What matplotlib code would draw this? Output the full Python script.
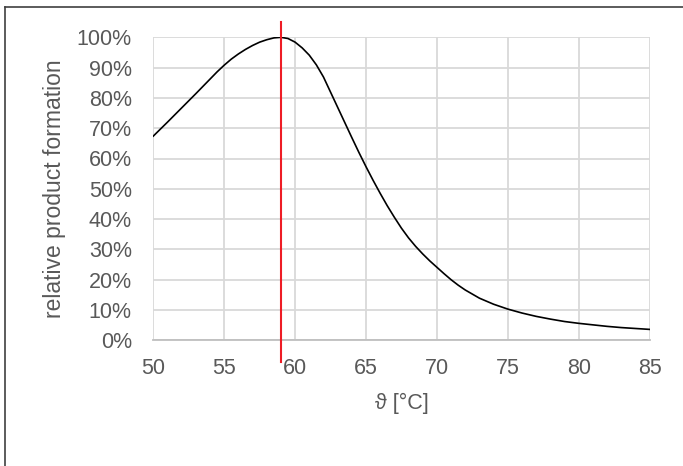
import matplotlib
matplotlib.use("Agg")
import matplotlib.pyplot as plt
from matplotlib.lines import Line2D
from matplotlib.ticker import FuncFormatter

# --- data ---
temperature = [50, 51, 52, 53, 54, 54.5, 55, 55.5, 56, 56.5, 57, 57.5, 58, 58.5, 59,
               59.5, 60, 60.5, 61, 61.5, 62, 62.5, 63, 63.5, 64, 64.5, 65,
               65.5, 66, 66.5, 67, 67.5, 68, 68.5, 69, 69.5, 70, 70.5, 71, 71.5,
               72, 73, 74, 75, 76, 77, 78, 79, 80, 81, 82, 83, 84, 85]
product_formation = [67.4, 72.0, 76.7, 81.4, 86.2, 88.6, 90.8, 92.8, 94.5, 96.0,
                     97.3, 98.4, 99.2, 99.8, 100.0,
                     99.6, 98.4, 96.5, 94.1, 90.9, 86.9, 81.9, 76.9, 71.9, 66.9,
                     62.0, 57.3, 52.8, 48.5, 44.4, 40.6, 37.0, 33.8, 31.0, 28.5,
                     26.2, 24.1, 22.0, 20.0, 18.2, 16.6, 13.9, 11.9, 10.3, 9.0,
                     7.9, 7.0, 6.2, 5.6, 5.1, 4.6, 4.2, 3.9, 3.6]
optimum_temperature = 59.0
x_ticks = [50, 55, 60, 65, 70, 75, 80, 85]
y_ticks = [0, 10, 20, 30, 40, 50, 60, 70, 80, 90, 100]
x_label = "ϑ [°C]"
y_label = "relative product formation"

plt.rcParams['font.family'] = ['Liberation Sans', 'DejaVu Sans']
text_color = "#595959"

W, H = 683, 466
fig = plt.figure(figsize=(W / 100, H / 100), dpi=100)
left, right, top, bottom = 153.3, 649.6, 37.3, 340.3
ax = fig.add_axes([left / W, 1 - bottom / H, (right - left) / W, (bottom - top) / H])

ax.plot(temperature, product_formation, color="black", lw=1.2, zorder=3,
        solid_joinstyle="round")
ax.plot([optimum_temperature, optimum_temperature], [-7.2, 105.0], color="#ee1c25",
        lw=1.5, zorder=4, clip_on=False)

ax.set_xlim(50, 85)
ax.set_ylim(0, 100)
ax.set_xticks(x_ticks)
ax.set_yticks(y_ticks)
ax.yaxis.set_major_formatter(FuncFormatter(lambda v, p: f"{int(v)}%"))
ax.grid(True, color="#d9d9d9", lw=1.3, zorder=0)
ax.set_axisbelow(True)
for s in ["top", "right", "left"]:
    ax.spines[s].set_visible(False)
ax.spines["bottom"].set_color("#bfbfbf")
ax.spines["bottom"].set_linewidth(1.3)
ax.tick_params(axis="both", length=0, labelsize=15.5, labelcolor=text_color)
ax.tick_params(axis="y", pad=15.5)
ax.tick_params(axis="x", pad=13)
ax.set_xlabel(x_label, fontsize=15.5, color=text_color, labelpad=10)
ax.set_ylabel(y_label, fontsize=16.5, color=text_color, labelpad=8)

# outer frame (partially visible)
fc = "#404040"
fig.add_artist(Line2D([4.5 / W, 4.5 / W], [0, 1 - 6.7 / H], transform=fig.transFigure,
                      color=fc, lw=1.2))
fig.add_artist(Line2D([4.5 / W, 1], [1 - 6.7 / H, 1 - 6.7 / H], transform=fig.transFigure,
                      color=fc, lw=1.2))

fig.savefig("out.png", dpi=100)
